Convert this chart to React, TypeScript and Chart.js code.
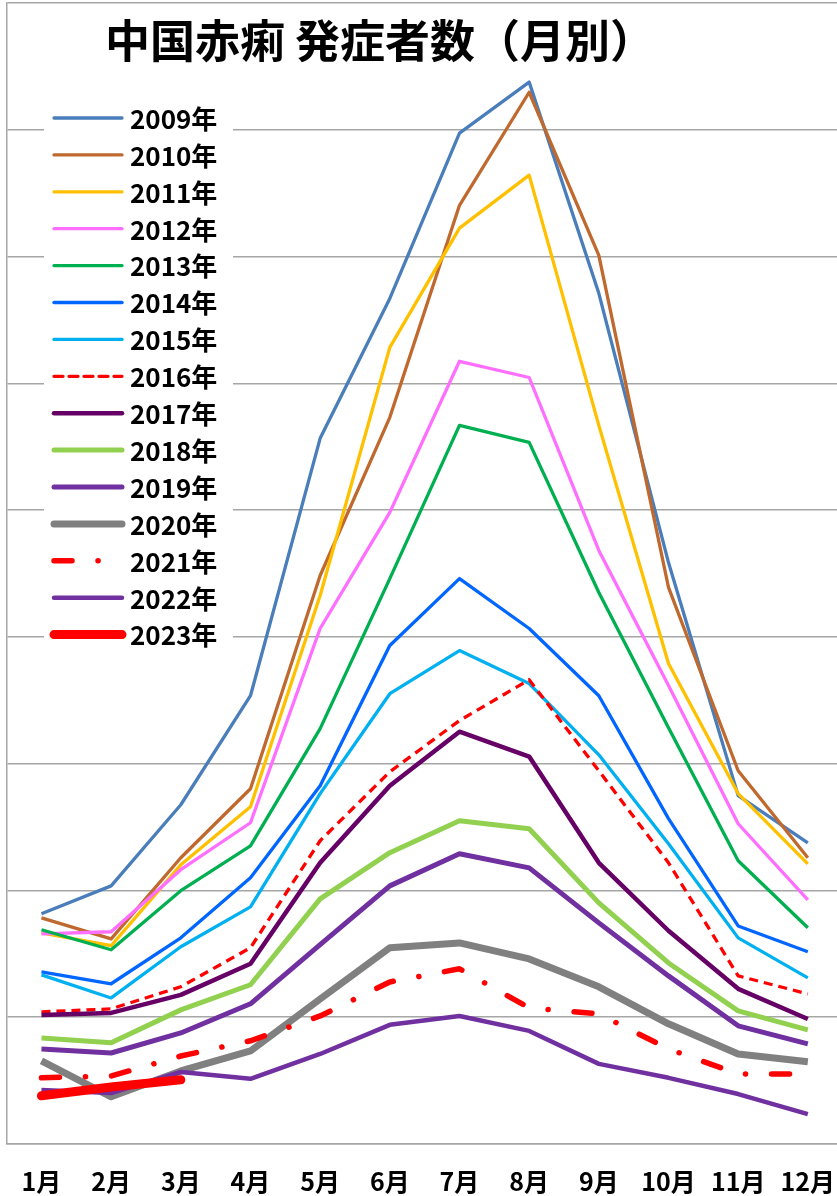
import React, { useEffect, useRef } from "react";
import { Chart, registerables } from "chart.js";

Chart.register(...registerables);

const MONTHS = ["1月", "2月", "3月", "4月", "5月", "6月", "7月", "8月", "9月", "10月", "11月", "12月"];
const YEARS = ["2009年", "2010年", "2011年", "2012年", "2013年", "2014年", "2015年", "2016年", "2017年", "2018年", "2019年", "2020年", "2021年", "2022年", "2023年"];

const Y2009 = [9080, 10180, 13380, 17680, 27830, 33350, 39870, 41880, 33550, 22930, 13740, 11880];
const Y2010 = [8920, 8090, 11290, 14010, 22420, 28660, 37020, 41480, 35050, 21950, 14720, 11290];
const Y2011 = [8330, 7820, 11010, 13300, 21630, 31420, 36120, 38210, 28340, 18950, 13820, 11050];
const Y2012 = [8290, 8370, 10820, 12670, 20330, 24910, 30870, 30230, 23410, 18080, 12630, 9630];
const Y2013 = [8450, 7660, 9990, 11760, 16380, 22300, 28340, 27670, 21750, 16420, 11170, 8530];
const Y2014 = [6790, 6320, 8130, 10500, 14130, 19660, 22300, 20330, 17680, 12830, 8600, 7580];
const Y2015 = [6670, 5760, 7780, 9350, 13820, 17760, 19460, 18160, 15350, 11840, 8130, 6550];
const Y2016 = [5210, 5330, 6200, 7740, 11960, 14680, 16700, 18310, 14720, 11090, 6630, 5920];
const Y2017 = [5090, 5170, 5880, 7110, 11090, 14130, 16260, 15280, 11090, 8410, 6120, 4930];
const Y2018 = [4180, 3990, 5290, 6280, 9670, 11490, 12750, 12430, 9510, 7140, 5250, 4500];
const Y2019 = [3750, 3590, 4380, 5530, 7860, 10180, 11450, 10890, 8720, 6630, 4660, 3950];
const Y2020 = [3280, 1860, 2880, 3670, 5720, 7740, 7930, 7300, 6200, 4740, 3550, 3240];
const Y2021 = [2610, 2680, 3470, 4070, 5050, 6390, 6910, 5370, 5130, 3750, 2760, 2760];
const Y2022 = [2130, 2010, 2840, 2570, 3550, 4700, 5050, 4460, 3160, 2610, 1970, 1180];
const Y2023 = [1900, 2250, 2530, null, null, null, null, null, null, null, null, null];

const SERIES = [Y2009, Y2010, Y2011, Y2012, Y2013, Y2014, Y2015, Y2016, Y2017, Y2018, Y2019, Y2020, Y2021, Y2022, Y2023];

const Y_MIN = 0;
const Y_MAX = 45000;
const Y_STEP = 5000;

const TITLE = "中国赤痢 発症者数（月別）";

const STYLES = [
  { color: "#4A7EBB", width: 3.3, dash: [], cap: "butt" },
  { color: "#C0692E", width: 3.3, dash: [], cap: "butt" },
  { color: "#FFC000", width: 3.3, dash: [], cap: "butt" },
  { color: "#FF6FFF", width: 3.3, dash: [], cap: "butt" },
  { color: "#00B050", width: 3.3, dash: [], cap: "butt" },
  { color: "#0066FF", width: 3.3, dash: [], cap: "butt" },
  { color: "#00B0F0", width: 3.3, dash: [], cap: "butt" },
  { color: "#FF0000", width: 3.3, dash: [9, 6], cap: "butt" },
  { color: "#660066", width: 4.5, dash: [], cap: "butt" },
  { color: "#92D050", width: 5, dash: [], cap: "butt" },
  { color: "#7030A0", width: 5, dash: [], cap: "butt" },
  { color: "#808080", width: 7, dash: [], cap: "butt" },
  { color: "#FF0000", width: 5.5, dash: [18, 26, 0.1, 26], cap: "round" },
  { color: "#7030A0", width: 4.5, dash: [], cap: "butt" },
  { color: "#FF0000", width: 9, dash: [], cap: "round" },
];

const FONT = "'Noto Sans CJK JP', 'Noto Sans', sans-serif";

const overlayPlugin = {
  id: "overlay",
  afterDraw(chart: any) {
    const ctx = chart.ctx as CanvasRenderingContext2D;
    // title
    ctx.save();
    ctx.fillStyle = "#000";
    ctx.font = `bold 45px ${FONT}`;
    ctx.textAlign = "center";
    ctx.textBaseline = "middle";
    ctx.fillText(TITLE, 380, 41);
    ctx.restore();

    // legend
    const top = 118;
    const step = 36.9;
    ctx.save();
    ctx.fillStyle = "#fff";
    ctx.fillRect(44, top - 18, 189, step * (YEARS.length - 1) + 36);
    chart.data.datasets.forEach((ds: any, i: number) => {
      const y = top + i * step;
      ctx.save();
      ctx.strokeStyle = ds.borderColor;
      ctx.lineWidth = ds.borderWidth;
      ctx.lineCap = "round";
      ctx.setLineDash(ds.borderDash || []);
      ctx.beginPath();
      ctx.moveTo(54, y);
      ctx.lineTo(122, y);
      ctx.stroke();
      ctx.restore();
      ctx.fillStyle = "#000";
      ctx.font = `bold 26px ${FONT}`;
      ctx.textAlign = "left";
      ctx.textBaseline = "middle";
      ctx.fillText(ds.label, 130, y + 1);
    });
    ctx.restore();
  },
};

export default function App() {
  const ref = useRef<HTMLCanvasElement | null>(null);
  useEffect(() => {
    if (!ref.current) return;
    const n = SERIES.length;
    const chart = new Chart(ref.current, {
      type: "line",
      data: {
        labels: MONTHS,
        datasets: SERIES.map((d, i) => ({
          label: YEARS[i],
          data: d,
          borderColor: STYLES[i].color,
          backgroundColor: STYLES[i].color,
          borderWidth: STYLES[i].width,
          borderDash: STYLES[i].dash,
          borderCapStyle: STYLES[i].cap,
          borderJoinStyle: "round",
          pointRadius: 0,
          pointHoverRadius: 0,
          tension: 0,
          fill: false,
          spanGaps: false,
          order: n - i,
        })),
      },
      options: {
        responsive: false,
        animation: false,
        devicePixelRatio: 1,
        layout: { padding: { left: 1.5, top: 3, right: 3, bottom: 1 } },
        plugins: {
          legend: { display: false },
          title: { display: false },
          tooltip: { enabled: false },
        },
        scales: {
          x: {
            offset: true,
            grid: { display: false, drawTicks: false },
            border: { display: true, color: "#A6A6A6", width: 1.5 },
            ticks: {
              color: "#000",
              font: { family: FONT, size: 25, weight: "bold" },
              padding: 22,
              maxRotation: 0,
              autoSkip: false,
            },
          },
          y: {
            min: Y_MIN,
            max: Y_MAX,
            ticks: { display: false, stepSize: Y_STEP },
            grid: { color: "#A6A6A6", lineWidth: 1.5, drawTicks: false, tickLength: 0 },
            border: { display: true, color: "#A6A6A6", width: 1.5 },
          },
        },
      },
      plugins: [overlayPlugin],
    });
    return () => chart.destroy();
  }, []);

  return (
    <div style={{ position: "absolute", left: 0, top: 0, width: 837, height: 1196, overflow: "hidden", background: "#fff" }}>
      <canvas ref={ref} width={857} height={1219} style={{ display: "block" }} />
    </div>
  );
}
